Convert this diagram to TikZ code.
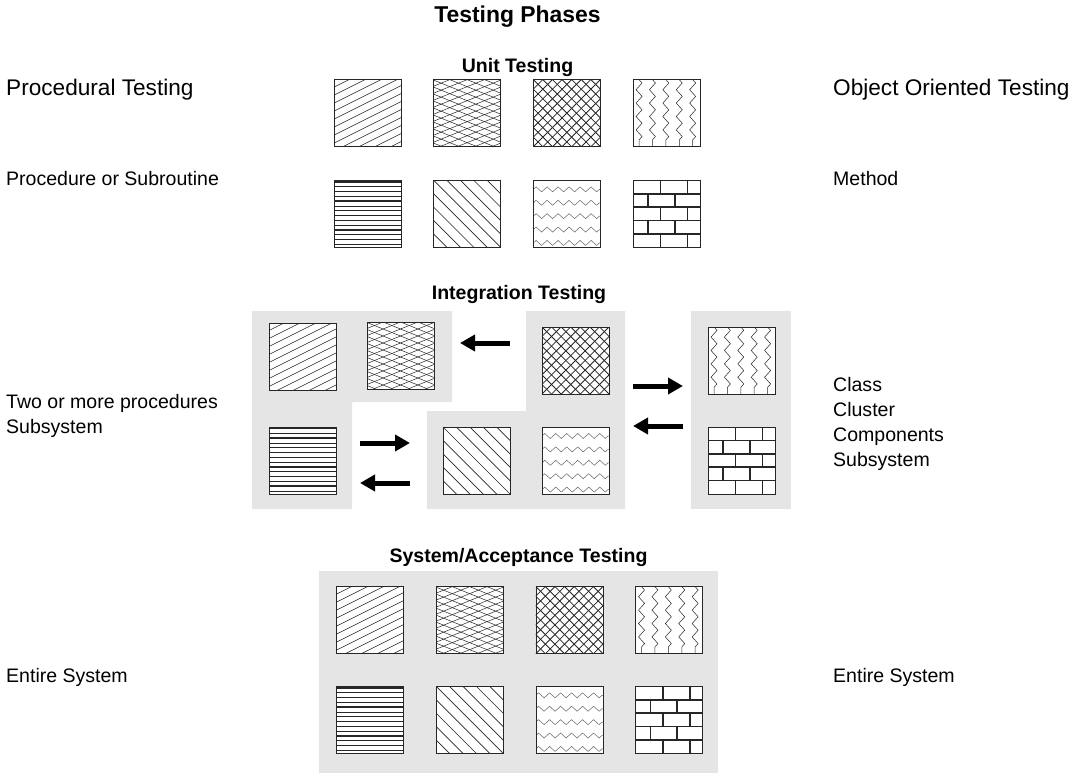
\documentclass[tikz,border=0pt]{standalone}
\usepackage{fontspec}
\setmainfont{Liberation Sans}
\usetikzlibrary{matrix, arrows.meta, decorations.pathmorphing}

% fill patterns of the tiles, drawn about the tile centre (-33.5..33.5, y down)
\tikzset{
  slantup/.style={path picture={\begin{scope}[line width=.5bp]
      \foreach \k in {-34,-26,...,70} \draw (-33.5,\k) -- (33.5,\k-33.5);
    \end{scope}}},
  netpat/.style={path picture={\begin{scope}[line width=.5bp]
      \foreach \k in {-62,-55,...,64} {\draw (-33.5,\k) -- (33.5,\k-27); \draw (-33.5,\k-27) -- (33.5,\k);}
    \end{scope}}},
  trellis/.style={path picture={\begin{scope}[line width=.8bp]
      \foreach \k in {-100.7,-91.1,...,34} {\draw (\k,-33.5) -- (\k+67,33.5); \draw (\k,33.5) -- (\k+67,-33.5);}
    \end{scope}}},
  zigvert/.style={path picture={\begin{scope}[line width=.5bp]
      \foreach \k in {-27.5,-14.1,...,27} \draw[decorate, decoration={zigzag, segment length=13.4bp, amplitude=3bp}] (\k,-33.5) -- (\k,33.5);
    \end{scope}}},
  hlines/.style={path picture={\begin{scope}
      \foreach \k in {-32,-22.4,...,33.5} \draw[line width=1.5bp] (-33.5,\k) -- (33.5,\k);
      \foreach \k in {-27.2,-17.6,...,33.5} \draw[line width=.6bp] (-33.5,\k) -- (33.5,\k);
    \end{scope}}},
  slantdown/.style={path picture={\begin{scope}[line width=.7bp]
      \foreach \k in {-100.5,-87.1,...,34} \draw (\k,-33.5) -- (\k+67,33.5);
    \end{scope}}},
  zighorz/.style={path picture={\begin{scope}[line width=.5bp, draw=black!60]
      \foreach \k in {-24.5,-11.1,...,31} \draw[decorate, decoration={zigzag, segment length=11bp, amplitude=2.5bp}] (-33.5,\k) -- (33.5,\k);
    \end{scope}}},
  brick/.style={path picture={\begin{scope}[line width=1.6bp]
      \foreach \r in {-20.1,-6.7,6.7,20.1} \draw (-33.5,\r) -- (33.5,\r);
      \foreach \r in {-33.5,-6.7,20.1} {\draw (-6,\r) -- ++(0,13.4); \draw (21,\r) -- ++(0,13.4);}
      \foreach \r in {-20.1,6.7} {\draw (-18.5,\r) -- ++(0,13.4); \draw (8.2,\r) -- ++(0,13.4);}
      \draw (-33.5,33.5) -- (-33.5,-33.5) -- (33.5,-33.5);
    \end{scope}}}
}

\begin{document}
\begin{tikzpicture}[
       x=1bp, y=-1bp,
       tile/.style={draw=black!85, line width=.7bp, fill=white, minimum size=67bp, inner sep=0pt},
       panel/.style={fill=black!10},
       head/.style={font=\bfseries\fontsize{19.6}{24}\selectfont, anchor=base},
       big/.style={font=\fontsize{22.7}{27}\selectfont, anchor=base west},
       body/.style={font=\fontsize{19.6}{25}\selectfont, anchor=base west, align=left, inner sep=0pt},
       grid/.style={matrix of nodes, ampersand replacement=\&, nodes in empty cells, column sep=32bp},
       bigarrow/.style={line width=5bp, -{Triangle[length=15bp, width=16bp]}}
       ]
  \useasboundingbox (0,0) rectangle (1081,778);

  % grey backgrounds
  \fill[panel] (252,311) -- (452,311) -- (452,402) -- (352,402) -- (352,509) -- (252,509) -- cycle;
  \fill[panel] (526,311) -- (625,311) -- (625,509) -- (427,509) -- (427,411) -- (526,411) -- cycle;
  \fill[panel] (691,311) rectangle (791,509);
  \fill[panel] (319,571) rectangle (718,773);

  % headings
  \node[head, font=\bfseries\fontsize{23}{28}\selectfont] (title) at (517.5,23) {Testing Phases};
  \node[head] (unit) at (517.5,73) {Unit Testing};
  \node[head] (integ) at (519,299) {Integration Testing};
  \node[head] (sysacc) at (518.5,562) {System/Acceptance Testing};

  % side texts (multi-line ones sit on their last line)
  \node[big, inner sep=0pt] (proc) at (6,96) {Procedural Testing};
  \node[big, inner sep=0pt] (oo) at (833,96) {Object Oriented Testing};
  \node[body] (procsub) at (6,185) {Procedure or Subroutine};
  \node[body] (method) at (833,185) {Method};
  \node[body] (twoproc) at (6,433) {Two or more procedures\\Subsystem};
  \node[body] (classes) at (833,466) {Class\\Cluster\\Components\\Subsystem};
  \node[body] (entl) at (6,682) {Entire System};
  \node[body] (entr) at (833,682) {Entire System};

  % unit testing
  \matrix (unitgrid) [grid, row sep=33bp] at (517,163.5)
  {
    |[tile,slantup] (u1)| \& |[tile,netpat] (u2)| \& |[tile,trellis] (u3)| \& |[tile,zigvert] (u4)| \\
    |[tile,hlines] (u5)| \& |[tile,slantdown] (u6)| \& |[tile,zighorz] (u7)| \& |[tile,brick] (u8)| \\
  };

  % integration testing
  \node[tile,slantup] (i1) at (302.5,356.5) {};
  \node[tile,netpat] (i2) at (400.5,355.5) {};
  \node[tile,trellis] (i3) at (575.5,360.5) {};
  \node[tile,zigvert] (i4) at (741.5,360.5) {};
  \node[tile,hlines] (i5) at (302.5,460.5) {};
  \node[tile,slantdown] (i6) at (476.5,460.5) {};
  \node[tile,zighorz] (i7) at (575.5,460.5) {};
  \node[tile,brick] (i8) at (741.5,460.5) {};

  \coordinate (ar1s) at (510,343);  \coordinate (ar1e) at (460,343);
  \coordinate (ar2s) at (633,386);  \coordinate (ar2e) at (683,386);
  \coordinate (ar3s) at (683,426);  \coordinate (ar3e) at (633,426);
  \coordinate (ar4s) at (360,443);  \coordinate (ar4e) at (410,443);
  \coordinate (ar5s) at (410,483);  \coordinate (ar5e) at (360,483);
  \foreach \n in {1,...,5} \draw[bigarrow] (ar\n s) -- (ar\n e);

  % system / acceptance testing
  \matrix (sysgrid) [grid, row sep=32bp] at (519.5,670)
  {
    |[tile,slantup] (s1)| \& |[tile,netpat] (s2)| \& |[tile,trellis] (s3)| \& |[tile,zigvert] (s4)| \\
    |[tile,hlines] (s5)| \& |[tile,slantdown] (s6)| \& |[tile,zighorz] (s7)| \& |[tile,brick] (s8)| \\
  };
\end{tikzpicture}
\end{document}
